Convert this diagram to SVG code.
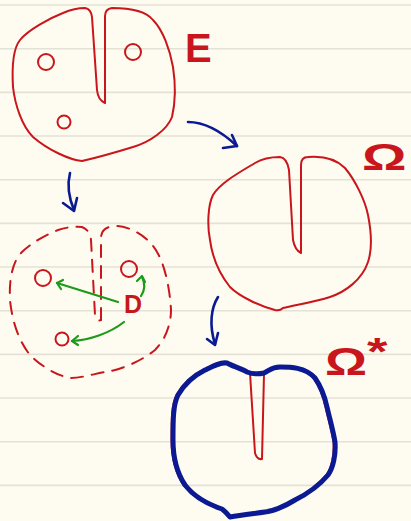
<svg xmlns="http://www.w3.org/2000/svg" width="411" height="521" viewBox="0 0 411 521">
<defs>
<style>
.rule{stroke:#e4e2d6;stroke-width:1.6}
.red{fill:none;stroke:#c8161c;stroke-width:2;stroke-linecap:round;stroke-linejoin:round}
.dash{fill:none;stroke:#c8161c;stroke-width:2;stroke-linecap:round;stroke-dasharray:12 9}
.blue{fill:none;stroke:#0b1a92;stroke-width:2.6;stroke-linecap:round;stroke-linejoin:round}
.thick{fill:none;stroke:#0b1a92;stroke-width:5;stroke-linecap:round;stroke-linejoin:round}
.green{fill:none;stroke:#1b9a1b;stroke-width:2.2;stroke-linecap:round;stroke-linejoin:round}
.lbl{fill:#c8161c;font-family:"Liberation Sans",Arial,sans-serif;font-weight:bold}
</style>
</defs>
<rect width="411" height="521" fill="#fefcf0"/>
<g id="rules">
<line class="rule" x1="0" y1="5" x2="411" y2="5"/>
<line class="rule" x1="0" y1="48.7" x2="411" y2="48.7"/>
<line class="rule" x1="0" y1="92.4" x2="411" y2="92.4"/>
<line class="rule" x1="0" y1="136" x2="411" y2="136"/>
<line class="rule" x1="0" y1="179.7" x2="411" y2="179.7"/>
<line class="rule" x1="0" y1="223.4" x2="411" y2="223.4"/>
<line class="rule" x1="0" y1="267" x2="411" y2="267"/>
<line class="rule" x1="0" y1="310.7" x2="411" y2="310.7"/>
<line class="rule" x1="0" y1="354.4" x2="411" y2="354.4"/>
<line class="rule" x1="0" y1="398" x2="411" y2="398"/>
<line class="rule" x1="0" y1="441.7" x2="411" y2="441.7"/>
<line class="rule" x1="0" y1="485.4" x2="411" y2="485.4"/>
</g>
<g id="E">
<path class="red" d="M105,103 L105,16 Q105,9 112,8 C125,8 145,10 153,20 C163,30 170,50 173,67 C175,80 176,100 172,117 C167,130 150,142 133,147 C120,151 100,157 82,161 C70,160 48,150 33,137 C22,126 15,105 13,87 C12,70 12,50 20,40 C28,30 50,18 63,13 C70,10 78,8 85,8 Q91,9 92,17 L97,90 Q98,100 105,103 Z"/>
<circle class="red" cx="46" cy="62" r="8"/>
<circle class="red" cx="133" cy="52" r="8"/>
<circle class="red" cx="64" cy="122" r="6.5"/>
<text class="lbl" x="185" y="62" font-size="40">E</text>
</g>
<g id="Omega">
<path class="red" d="M301,253 L301,165 Q301,157 308,157 C320,156 335,158 345,168 C355,180 365,200 368,215 C372,235 372,250 368,262 C362,280 345,292 330,297 C315,302 295,305 283,308 Q280,311 275,310 C260,306 240,297 230,287 C218,272 212,255 210,240 C207,225 208,205 213,195 C220,183 240,172 255,163 Q265,157 280,157 Q287,158 289,170 L293,240 Q295,250 301,253 Z"/>
<text class="lbl" font-size="37" transform="translate(362,170) scale(1.5,1)">Ω</text>
</g>
<g id="D-domain">
<path class="dash" d="M101,320 L101,237 Q102,226 117,226 C130,226 150,238 157,252 C165,265 170,290 171,310 C171,325 165,340 155,350 C140,362 120,370 105,372 C90,375 80,378 70,378 C55,375 40,365 30,355 C18,340 12,320 10,300 C9,280 12,262 22,252 C30,244 45,235 58,230 Q70,226 82,227 Q90,230 91,240 L95,315 Q96,322 101,320 Z"/>
<circle class="red" cx="43" cy="278" r="8"/>
<circle class="red" cx="129" cy="269" r="8"/>
<circle class="red" cx="62" cy="339" r="6.5"/>
<text class="lbl" x="124" y="313" font-size="25">D</text>
</g>
<g id="OmegaStar">
<path class="red" d="M250,373 L255,453 Q257,460 262,459 L264,374"/>
<path class="red" transform="translate(-1.5,0)" d="M227,363 C232,366 240,368 247,372 Q255,375 264,373 C270,370 272,367 280,367 C290,367 305,367 315,378 C322,388 325,398 327,407 C330,420 333,430 335,442 C336,455 333,468 328,475 C318,487 305,495 295,500 C285,506 275,511 265,512 C250,514 240,515 230,517 Q226,512 222,509 C210,505 195,498 185,485 C175,470 173,455 173,440 C173,420 173,405 178,395 C185,383 195,375 205,370 C213,366 220,362 227,363 Z"/>
<path class="thick" d="M227,363 C232,366 240,368 247,372 Q255,375 264,373 C270,370 272,367 280,367 C290,367 305,367 315,378 C322,388 325,398 327,407 C330,420 333,430 335,442 C336,455 333,468 328,475 C318,487 305,495 295,500 C285,506 275,511 265,512 C250,514 240,515 230,517 Q226,512 222,509 C210,505 195,498 185,485 C175,470 173,455 173,440 C173,420 173,405 178,395 C185,383 195,375 205,370 C213,366 220,362 227,363 Z"/>
<text class="lbl" font-size="38" transform="translate(325,375) scale(1.38,1)">Ω<tspan dy="-10" font-size="38">*</tspan></text>
</g>
<g id="connectors">
<path class="blue" d="M188,122 C205,122 222,132 237,146"/>
<path class="blue" d="M232,135 L237,146 L223,148"/>
<path class="blue" d="M70,173 C67,185 69,198 74,210"/>
<path class="blue" d="M63,203 L74,211 L77,198"/>
<path class="blue" d="M218,297 C211,308 209,325 215,344"/>
<path class="blue" d="M207,339 L215,345 L218,333"/>
<path class="green" d="M118,302 L57,283"/>
<path class="green" d="M63,280 L57,283 L61,289"/>
<path class="green" d="M124,322 C110,333 90,340 72,341"/>
<path class="green" d="M78,336 L72,341 L78,345"/>
<path class="green" d="M141,296 C145,290 145,283 142,277"/>
<path class="green" d="M137,281 L142,276 L145,282"/>
</g>
</svg>
